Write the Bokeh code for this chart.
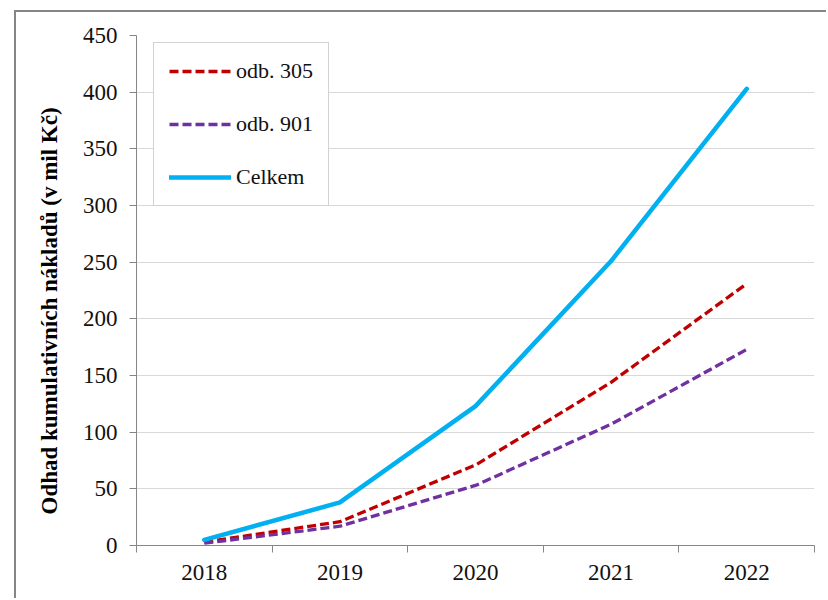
from bokeh.plotting import figure
from bokeh.models import FixedTicker, Range1d, Legend, LegendItem, Title
from bokeh.embed import file_html
from bokeh.resources import INLINE

years = ["2018", "2019", "2020", "2021", "2022"]
odb305 = [3, 21, 71, 144, 231]
odb901 = [2, 17, 53, 107, 173]
celkem = [5, 38, 123, 251, 403]
y_ticks = [0, 50, 100, 150, 200, 250, 300, 350, 400, 450]

xs = [i + 0.5 for i in range(len(years))]

FONT = "Liberation Serif"
GRAY = "#868686"

p = figure(width=812, height=588, output_backend="svg", toolbar_location=None,
           x_range=Range1d(0, len(years)), y_range=Range1d(0, 450),
           min_border_left=119, min_border_top=23, min_border_right=14,
           min_border_bottom=55, margin=(10, 0, 0, 14),
           styles={"border-left": "2px solid #868686", "border-top": "2px solid #868686"})
p.outline_line_color = None
p.background_fill_color = "white"
p.border_fill_color = "white"

r1 = p.line(xs, odb305, line_color="#C00000", line_width=3.3, line_dash="9 4")
r2 = p.line(xs, odb901, line_color="#7030A0", line_width=3.3, line_dash="9 4")
r3 = p.line(xs, celkem, line_color="#00B0F0", line_width=4.5, line_join="round", line_cap="round")

# x axis: labels at category centres, ticks at category boundaries
p.xaxis.ticker = FixedTicker(ticks=xs, minor_ticks=list(range(len(years) + 1)))
p.xaxis.major_label_overrides = {x: y for x, y in zip(xs, years)}
p.xaxis.major_tick_line_color = None
p.xaxis.major_tick_out = 0
p.xaxis.major_tick_in = 0
p.xaxis.minor_tick_out = 7
p.xaxis.minor_tick_in = 0
p.xaxis.minor_tick_line_color = GRAY
p.xaxis.axis_line_color = GRAY
p.xaxis.major_label_standoff = 12
p.xaxis.major_label_text_font = FONT
p.xaxis.major_label_text_font_size = "23px"
p.xaxis.major_label_text_color = "#111111"
p.xgrid.grid_line_color = None

p.yaxis.ticker = FixedTicker(ticks=y_ticks)
p.yaxis.minor_tick_line_color = None
p.yaxis.major_tick_out = 7
p.yaxis.major_tick_in = 0
p.yaxis.major_tick_line_color = GRAY
p.yaxis.axis_line_color = GRAY
p.yaxis.major_label_standoff = 12
p.yaxis.major_label_text_font = FONT
p.yaxis.major_label_text_font_size = "23px"
p.yaxis.major_label_text_color = "#111111"
p.ygrid.grid_line_color = "#d9d9d9"
p.ygrid.grid_line_width = 1

ytitle = Title(text="Odhad kumulativních nákladů (v mil Kč)", align="left",
               text_font=FONT, text_font_style="bold", text_font_size="23px",
               text_color="#000000", offset=31, standoff=36)
p.add_layout(ytitle, "left")

legend = Legend(items=[LegendItem(label="odb. 305", renderers=[r1]),
                       LegendItem(label="odb. 901", renderers=[r2]),
                       LegendItem(label="Celkem", renderers=[r3])],
                location=(17, 339))
legend.border_line_color = "#a6a6a6"
legend.border_line_width = 1
legend.background_fill_color = "white"
legend.background_fill_alpha = 1
legend.label_text_font = FONT
legend.label_text_font_size = "22px"
legend.label_text_color = "#111111"
legend.glyph_width = 62
legend.glyph_height = 20
legend.label_height = 20
legend.label_standoff = 5
legend.spacing = 27
legend.padding = 15
p.add_layout(legend)

open("out.html", "w").write(file_html(p, INLINE))
